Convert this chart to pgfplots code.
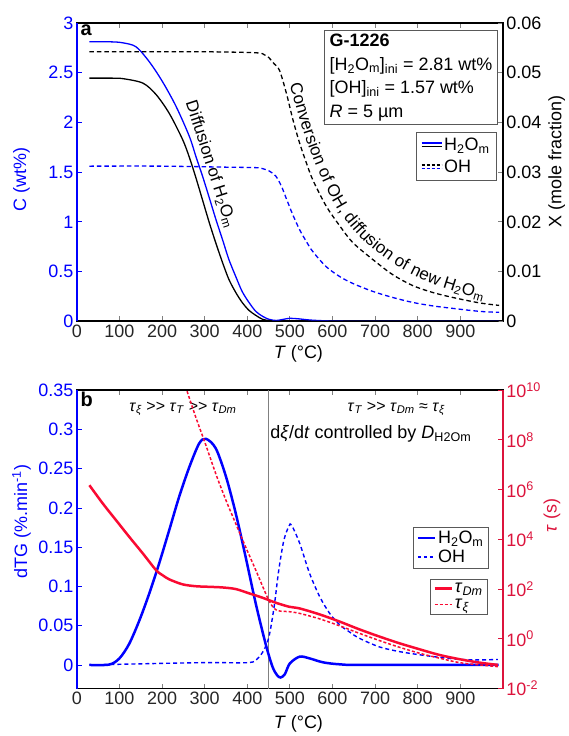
\documentclass[border=0pt]{standalone}
\usepackage{fontspec}
\setmainfont{Liberation Sans}
\usepackage{pgfplots}
\pgfplotsset{compat=1.18}
\usetikzlibrary{decorations.text}

\definecolor{tblue}{RGB}{0,0,255}
\definecolor{tred}{RGB}{250,10,50}
\definecolor{axred}{RGB}{220,20,60}

\newcommand{\fs}{\fontsize{18}{21}\selectfont}
\newcommand{\tsub}[1]{\textsubscript{#1}}
\newcommand{\mgt}{\textgreater{}\textgreater{}}

\pgfplotsset{
  mybase/.style={
    scale only axis, width=427pt, height=299pt, anchor=south west,
    xmin=0, xmax=1000,
    font=\fs, ticklabel style={font=\fs},
    tick align=inside, major tick length=5pt,
    axis line style={line width=1.8pt},
    every tick/.append style={line width=0.8pt},
    scaled ticks=false,
  },
  leftax/.style={
    mybase,
    xtick={0,100,200,300,400,500,600,700,800,900,1000},
    xticklabels={0,100,200,300,400,500,600,700,800,900,{}},
    xtick pos=both, xticklabel pos=lower,
    ytick pos=left, yticklabel pos=left,
    yticklabel style={tblue}, ytick style={tblue},
    xticklabel style={black!85},
    xlabel={\textit{T} (°C)},
  },
  rightax/.style={
    mybase,
    axis x line=none, axis y line*=right,
    y axis line style={-},
  },
  lgd/.style={
    legend style={draw=black!65, fill=white, line width=0.8pt, font=\fs,
      inner xsep=3pt, inner ysep=2pt, row sep=1pt, cells={anchor=west},
      nodes={inner sep=2pt}},
  },
}

\begin{document}
\begin{tikzpicture}
\path (0,0) rectangle (570pt,736pt);

% ---------------- panel a ----------------
\begin{axis}[leftax, name=a1, at={(77pt,414pt)},
  ymin=0, ymax=3,
  ytick={0,0.5,1,1.5,2,2.5,3}, yticklabels={0,0.5,1,1.5,2,2.5,3},
  ylabel={C (wt\%)},
  ylabel style={tblue, at={(axis description cs:-0.13,0.475)}, anchor=center},
  xlabel style={at={(axis description cs:0.52,-0.11)}, anchor=center},
]
% H2Om, wt%
\addplot[tblue, line width=1.3pt, smooth, forget plot] coordinates {
 (29.5,2.81) (80,2.81) (108,2.80) (139,2.76) (170,2.61) (201,2.41) (233,2.16)
 (264,1.86) (280,1.65) (295,1.46) (311,1.24) (326,1.03) (342,0.82) (357,0.62)
 (373,0.45) (388,0.30) (404,0.19) (420,0.10) (436,0.05) (451,0.02) (468,0.008)
 (485,0.02) (500,0.03) (520,0.025) (550,0.012) (600,0.003) (700,0) (990,0)};
% OH, wt%
\addplot[tblue, line width=1.3pt, dash pattern=on 4.5pt off 3pt, smooth, forget plot] coordinates {
 (29.5,1.56) (200,1.56) (350,1.55) (420,1.545) (436,1.535) (452,1.51) (467,1.46)
 (480,1.36) (492,1.23) (507,1.07) (523,0.92) (539,0.80) (554,0.70) (585,0.55)
 (617,0.45) (648,0.38) (695,0.30) (741,0.24) (788,0.19) (835,0.155) (882,0.13)
 (945,0.10) (991,0.09)};
\node[anchor=north west, inner sep=1pt, font=\fontsize{20}{20}\selectfont\bfseries]
  at (rel axis cs:0.006,0.997) {a};
\node[rotate=-72, font=\fontsize{17}{20}\selectfont] at (axis cs:314,1.58)
  {Diffusion of H\tsub{2}O\tsub{m}};
\path[decorate, decoration={text along path, text align=left,
  text={|\fontsize{17}{20}\selectfont|Conversion of OH, diffusion of new H{\tsub{2}}O{\tsub{m}}}}]
  plot[smooth] coordinates {(499.5,2.378) (530,1.926) (565,1.525) (612,1.124)
  (675,0.803) (757,0.542) (851,0.351) (968,0.201) (1000,0.17)};
\node[draw=black!65, line width=0.8pt, fill=white, anchor=north east, align=left,
  inner xsep=5pt, inner ysep=4pt, font=\fontsize{18}{23.5}\selectfont]
  at (rel axis cs:0.988,0.977)
  {\textbf{G-1226}\\ {[}H\tsub{2}O\tsub{m}{]}\tsub{ini} = 2.81 wt\%\\ {[}OH{]}\tsub{ini} = 1.57 wt\%\\ \textit{R} = 5 µm};
\end{axis}
\draw[tblue, line width=1.8pt] (a1.south west) -- (a1.north west);

\begin{axis}[rightax, lgd, at={(77pt,414pt)},
  ymin=0, ymax=0.06,
  ytick={0,0.01,0.02,0.03,0.04,0.05,0.06},
  yticklabels={0,0.01,0.02,0.03,0.04,0.05,0.06},
  ylabel={X (mole fraction)},
  ylabel style={at={(axis description cs:1.126,0.535)}, anchor=center, rotate=0},
  legend style={at={(0.986,0.635)}, anchor=north east, inner ysep=4pt, row sep=4pt,
    inner xsep=5pt},
]
\addlegendimage{legend image code/.code={
  \draw[tblue, line width=1.3pt] (0pt,2.2pt) -- (20pt,2.2pt);
  \draw[black, line width=1.3pt] (0pt,-1.2pt) -- (20pt,-1.2pt);}}
\addlegendentry{H\tsub{2}O\tsub{m}}
\addlegendimage{legend image code/.code={
  \draw[black, line width=1.3pt, dash pattern=on 3pt off 2pt] (0pt,2.2pt) -- (20pt,2.2pt);
  \draw[tblue, line width=1.3pt, dash pattern=on 3pt off 2pt] (0pt,-1.2pt) -- (20pt,-1.2pt);}}
\addlegendentry{OH}
% H2Om, mole fraction
\addplot[black, line width=1.3pt, smooth, forget plot] coordinates {
 (29.5,0.0489) (80,0.0489) (108,0.0488) (155,0.0479) (186,0.0456) (217,0.0418)
 (248,0.0366) (264,0.0330) (279,0.0290) (295,0.0244) (311,0.0198) (326,0.0158)
 (342,0.0118) (357,0.0084) (373,0.0058) (388,0.0038) (404,0.0022) (420,0.0012)
 (436,0.0004) (455,0.0001) (480,0) (990,0)};
% OH, mole fraction
\addplot[black, line width=1.3pt, dash pattern=on 4.5pt off 3pt, smooth, forget plot] coordinates {
 (29.5,0.0542) (300,0.0542) (420,0.0540) (440,0.0536) (451,0.0530) (463,0.0518)
 (476,0.0504) (492,0.0458) (507,0.0406) (523,0.0358) (539,0.0318) (554,0.0284)
 (585,0.0232) (617,0.0192) (648,0.0158) (695,0.0124) (741,0.0094) (788,0.0072)
 (835,0.0058) (882,0.0048) (945,0.0037) (991,0.0032)};
\end{axis}

% ---------------- panel b ----------------
\begin{axis}[leftax, lgd, name=b1, at={(77pt,46pt)},
  ymin=-0.03, ymax=0.35,
  ytick={0,0.05,0.1,0.15,0.2,0.25,0.3,0.35},
  yticklabels={0,0.05,0.1,0.15,0.2,0.25,0.3,0.35},
  ylabel={dTG (\%.min\textsuperscript{-1})},
  ylabel style={tblue, at={(axis description cs:-0.13,0.56)}, anchor=center},
  xlabel style={at={(axis description cs:0.52,-0.12)}, anchor=center},
  legend style={at={(0.967,0.542)}, anchor=north east},
]
\addlegendimage{legend image code/.code={
  \draw[tblue, line width=2.5pt] (0pt,0pt) -- (17pt,0pt);}}
\addlegendentry{H\tsub{2}O\tsub{m}}
\addlegendimage{legend image code/.code={
  \draw[tblue, line width=1.5pt, dash pattern=on 3.5pt off 2.5pt] (0pt,0pt) -- (17pt,0pt);}}
\addlegendentry{OH}
\addplot[black!50, line width=1pt, forget plot] coordinates {(450,-0.03) (450,0.35)};
% H2Om dTG
\addplot[tblue, line width=2.5pt, smooth, forget plot] coordinates {
 (29.5,0) (76,0.0005) (100,0.0084) (123,0.027) (147,0.057) (170,0.091) (193,0.129)
 (217,0.172) (240,0.214) (264,0.252) (287,0.282) (303,0.288) (326,0.276) (350,0.240)
 (373,0.193) (396,0.138) (420,0.078) (443,0.027) (459,-0.002) (470,-0.013)
 (478,-0.016) (488,-0.012) (500,0.002) (523,0.0106) (546,0.0084) (578,0.0033)
 (617,0.0008) (672,0) (990,0)};
% OH dTG
\addplot[tblue, line width=1.4pt, dash pattern=on 4pt off 3pt, smooth, forget plot] coordinates {
 (29.5,0) (200,0.002) (311,0.003) (404,0.003) (424,0.008) (439,0.019) (451,0.036)
 (463,0.074) (474,0.121) (486,0.159) (498,0.177) (504,0.178) (523,0.155) (546,0.117)
 (570,0.087) (593,0.066) (617,0.051) (640,0.042) (663,0.034) (710,0.023) (757,0.017)
 (804,0.013) (851,0.0097) (898,0.0071) (945,0.0064) (988,0.007)};
\node[anchor=north west, inner sep=1pt, font=\fontsize{20}{20}\selectfont\bfseries]
  at (rel axis cs:0.006,0.997) {b};
\node[font=\fontsize{16}{18}\selectfont] at (axis cs:249,0.326)
  {\textit{τ}\tsub{\textit{ξ}} \mgt{} \textit{τ}\tsub{\textit{T}} \mgt{} \textit{τ}\tsub{\textit{Dm}}};
\node[font=\fontsize{16}{18}\selectfont] at (axis cs:750,0.326)
  {\textit{τ}\tsub{\textit{T}} \mgt{} \textit{τ}\tsub{\textit{Dm}} ≈ \textit{τ}\tsub{\textit{ξ}}};
\node[font=\fs] at (axis cs:690,0.294)
  {d\textit{ξ}/d\textit{t} controlled by \textit{D}\tsub{H2Om}};
\end{axis}
\draw[tblue, line width=1.8pt] (b1.south west) -- (b1.north west);

\begin{axis}[rightax, lgd, at={(77pt,46pt)},
  ymode=log, ymin=1e-2, ymax=1e10, yminorticks=false,
  ytick={1e-2,1e0,1e2,1e4,1e6,1e8,1e10},
  yticklabels={10\textsuperscript{-2},10\textsuperscript{0},10\textsuperscript{2},10\textsuperscript{4},10\textsuperscript{6},10\textsuperscript{8},10\textsuperscript{10}},
  yticklabel style={axred}, ytick style={axred},
  y axis line style={axred},
  ylabel={\textit{τ} (s)},
  ylabel style={axred, at={(axis description cs:1.115,0.58)}, anchor=center},
  legend style={at={(0.965,0.368)}, anchor=north east},
]
\addlegendimage{legend image code/.code={
  \draw[tred, line width=2.5pt] (0pt,0pt) -- (17pt,0pt);}}
\addlegendentry{\textit{τ}\tsub{\textit{Dm}}}
\addlegendimage{legend image code/.code={
  \draw[tred, line width=1.5pt, dash pattern=on 3pt off 2pt] (0pt,0pt) -- (17pt,0pt);}}
\addlegendentry{\textit{τ}\tsub{\textit{ξ}}}
% tau_Dm
\addplot[tred, line width=2.5pt, smooth, forget plot] coordinates {
 (29.5,1.50e6) (61,2.75e5) (92,5.89e4) (123,1.26e4) (155,2.69e3) (186,575)
 (201,363) (217,245) (248,155) (279,130) (311,123) (342,116) (373,100) (404,67.6)
 (436,44.7) (467,28.2) (498,19.5) (523,16.6) (570,9.55) (617,4.90) (663,2.40)
 (710,1.23) (757,0.661) (804,0.380) (851,0.224) (898,0.151) (945,0.110) (988,0.0891)};
% tau_xi
\addplot[tred, line width=1.5pt, dash pattern=on 3pt off 2pt, smooth, forget plot] coordinates {
 (255,1.4e10) (279,8.32e8) (303,6.03e7) (326,4.37e6) (350,3.72e5) (373,4.27e4)
 (396,5.01e3) (420,575) (443,67.6) (452,31.6) (460,19.1) (468,14.5) (478,12.9)
 (498,12.3) (523,10.5) (570,6.31) (617,3.31) (663,1.66) (710,0.851) (757,0.457)
 (804,0.263) (851,0.166) (898,0.110) (945,0.0891) (988,0.0759)};
\end{axis}
\end{tikzpicture}
\end{document}
